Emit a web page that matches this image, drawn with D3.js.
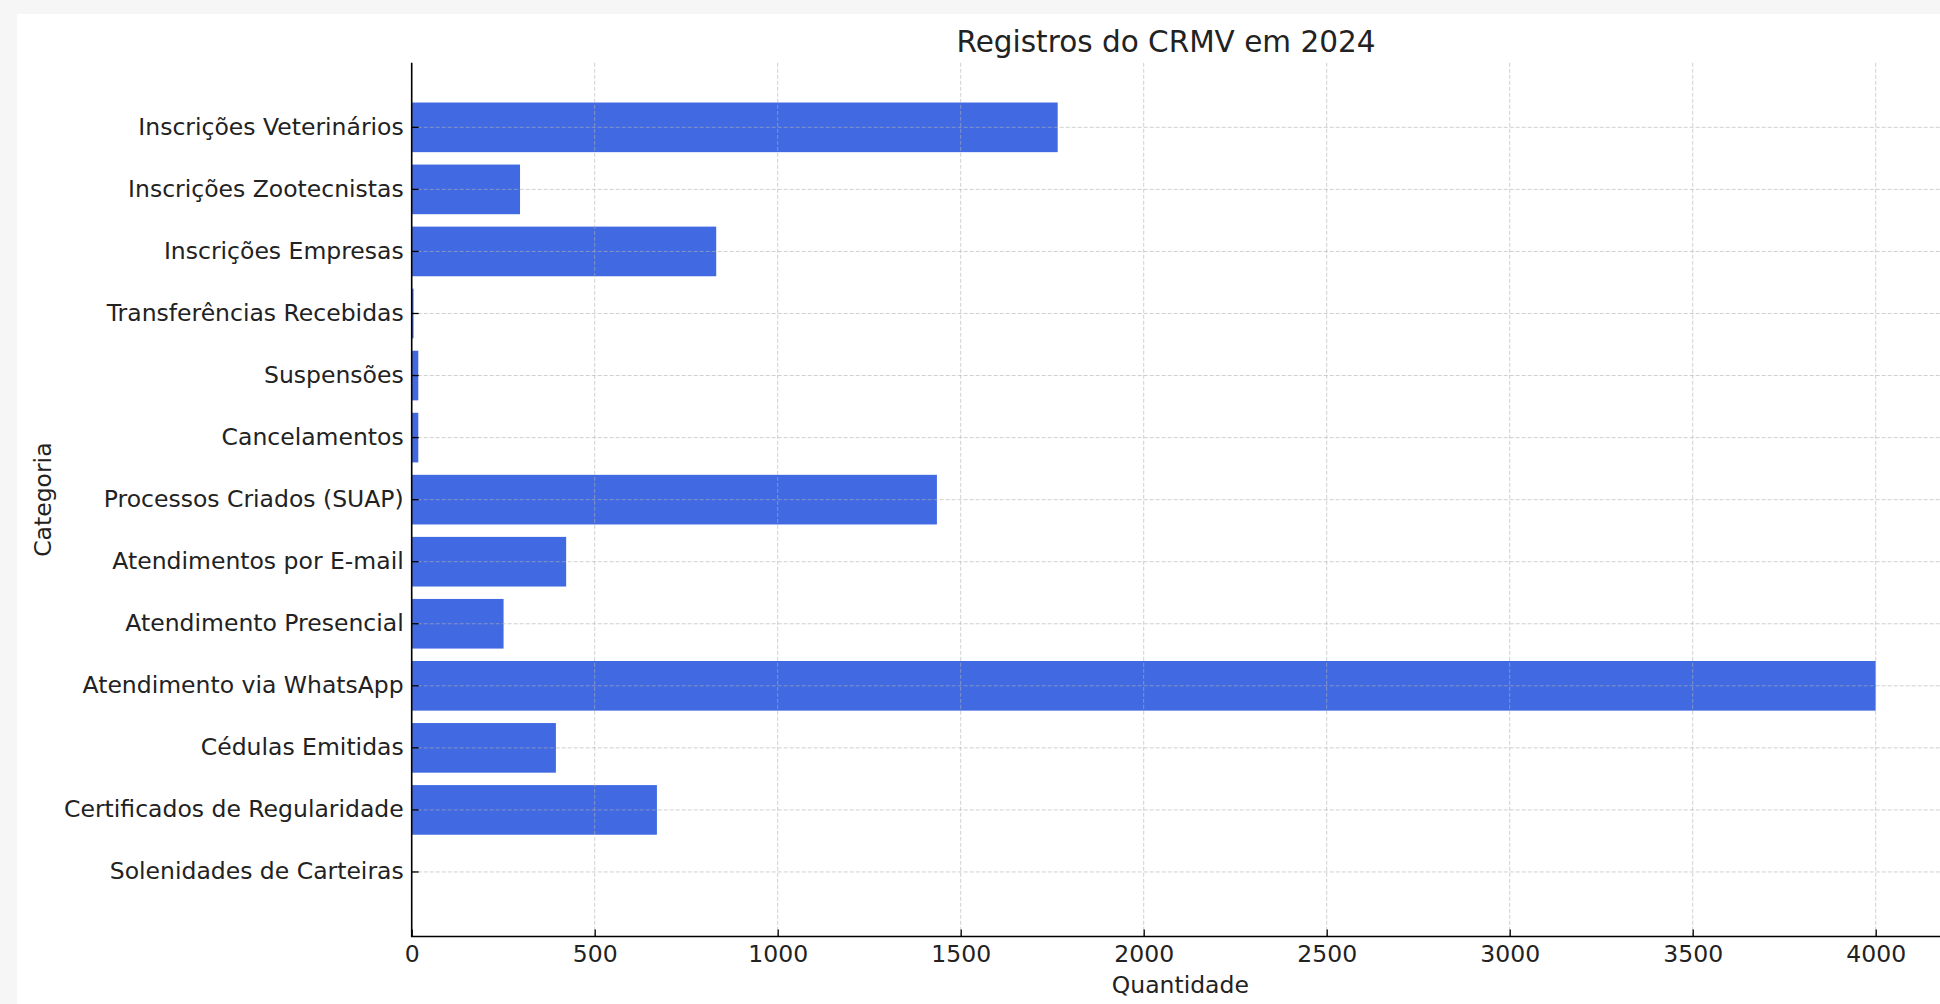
<!DOCTYPE html>
<html>
<head>
<meta charset="utf-8">
<script src="https://cdn.jsdelivr.net/npm/d3@7"></script>
<style>
  html, body { margin: 0; padding: 0; background: #f6f6f6; }
  svg { display: block; }
  text { font-family: "DejaVu Sans", sans-serif; fill: #222; }
</style>
</head>
<body>
<script>
// ---- data ----
const categories = [
  "Inscrições Veterinários",
  "Inscrições Zootecnistas",
  "Inscrições Empresas",
  "Transferências Recebidas",
  "Suspensões",
  "Cancelamentos",
  "Processos Criados (SUAP)",
  "Atendimentos por E-mail",
  "Atendimento Presencial",
  "Atendimento via WhatsApp",
  "Cédulas Emitidas",
  "Certificados de Regularidade",
  "Solenidades de Carteiras"
];
const values = [1765, 296, 832, 5, 18, 18, 1435, 422, 251, 4000, 394, 670, 0];
const xTicks = [0, 500, 1000, 1500, 2000, 2500, 3000, 3500, 4000];
const titleText = "Registros do CRMV em 2024";
const xLabel = "Quantidade";
const yLabel = "Categoria";

// ---- layout ----
const W = 1940, H = 1004;
const axLeft = 411.7, axTop = 62.8, axBottom = 936.5;
const xMax = 4200;
const pxPerUnit = 0.366;

const svg = d3.select("body").append("svg").attr("width", W).attr("height", H);

// white panel
svg.append("rect").attr("x", 17).attr("y", 14).attr("width", W - 17).attr("height", H - 14).attr("fill", "#fff");

const x = d3.scaleLinear().domain([0, xMax]).range([axLeft, axLeft + xMax * pxPerUnit]);
const y = d3.scaleBand().domain(categories).range([axTop, axBottom]).paddingInner(0.2).paddingOuter(0.64);

// bars
svg.append("g").selectAll("rect").data(categories).join("rect")
  .attr("x", x(0))
  .attr("y", d => y(d))
  .attr("width", (d, i) => x(values[i]) - x(0))
  .attr("height", y.bandwidth())
  .attr("fill", "#4169e1");

// grid (drawn above bars)
const grid = svg.append("g").attr("stroke", "#b0b0b0").attr("stroke-opacity", 0.6)
  .attr("stroke-width", 1).attr("stroke-dasharray", "4,2");
grid.selectAll("line.v").data(xTicks).join("line").attr("class", "v")
  .attr("x1", d => x(d)).attr("x2", d => x(d)).attr("y1", axTop).attr("y2", axBottom);
grid.selectAll("line.h").data(categories).join("line").attr("class", "h")
  .attr("x1", axLeft).attr("x2", W).attr("y1", d => y(d) + y.bandwidth() / 2).attr("y2", d => y(d) + y.bandwidth() / 2);

// axes
const xAxis = d3.axisBottom(x).tickValues(xTicks).tickFormat(d3.format("d")).tickSizeInner(-7).tickSizeOuter(0).tickPadding(8.5);
const gx = svg.append("g").attr("transform", `translate(0,${axBottom})`).call(xAxis);
gx.select(".domain").remove();
gx.selectAll("line").attr("stroke", "#000").attr("stroke-width", 1.3);
gx.selectAll("text").attr("font-size", 23.5).attr("font-family", "DejaVu Sans").attr("fill", "#222");

const yAxis = d3.axisLeft(y).tickSizeInner(-7).tickSizeOuter(0).tickPadding(8);
const gy = svg.append("g").attr("transform", `translate(${axLeft},0)`).call(yAxis);
gy.select(".domain").remove();
gy.selectAll("line").attr("stroke", "#000").attr("stroke-width", 1.3);
gy.selectAll("text").attr("font-size", 23.5).attr("font-family", "DejaVu Sans").attr("fill", "#222");

// spines
svg.append("line").attr("x1", axLeft).attr("x2", axLeft).attr("y1", axTop).attr("y2", axBottom)
  .attr("stroke", "#000").attr("stroke-width", 1.6);
svg.append("line").attr("x1", axLeft - 0.8).attr("x2", W).attr("y1", axBottom).attr("y2", axBottom)
  .attr("stroke", "#000").attr("stroke-width", 1.6);

// labels
svg.append("text").attr("x", 1166).attr("y", 52).attr("text-anchor", "middle")
  .attr("font-size", 29.5).text(titleText);
svg.append("text").attr("x", (axLeft + 1948.9) / 2).attr("y", 993).attr("text-anchor", "middle")
  .attr("font-size", 23.5).text(xLabel);
svg.append("text").attr("transform", `translate(51,${(axTop + axBottom) / 2}) rotate(-90)`)
  .attr("text-anchor", "middle").attr("font-size", 23.5).text(yLabel);
</script>
</body>
</html>
